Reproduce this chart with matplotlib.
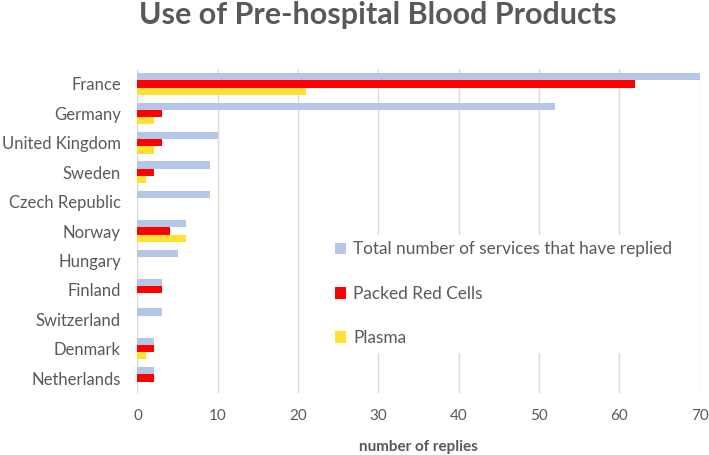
import matplotlib
matplotlib.use("Agg")
import matplotlib.pyplot as plt
import numpy as np

countries = ["France", "Germany", "United Kingdom", "Sweden", "Czech Republic",
             "Norway", "Hungary", "Finland", "Switzerland", "Denmark", "Netherlands"]
total_services = [70, 52, 10, 9, 9, 6, 5, 3, 3, 2, 2]
packed_red_cells = [62, 3, 3, 2, 0, 4, 0, 3, 0, 2, 2]
plasma = [21, 2, 2, 1, 0, 6, 0, 0, 0, 1, 0]
series_labels = ["Total number of services that have replied", "Packed Red Cells", "Plasma"]
x_ticks = [0, 10, 20, 30, 40, 50, 60, 70]

plt.rcParams['font.family'] = ['Lato', 'DejaVu Sans']
gray = "#595959"

fig = plt.figure(figsize=(7.09, 4.55), dpi=100)
ax = fig.add_axes([0.1939, 0.1369, 0.7929, 0.7108])

y = np.arange(len(countries))
h = 0.245
colors = ["#B4C7E7", "#FF0000", "#FFE033"]
ax.barh(y - h, total_services, height=h, color=colors[0], label=series_labels[0], zorder=3)
ax.barh(y, packed_red_cells, height=h, color=colors[1], label=series_labels[1], zorder=3)
ax.barh(y + h, plasma, height=h, color=colors[2], label=series_labels[2], zorder=3)

ax.set_ylim(len(countries) - 0.5, -0.5)
ax.set_xlim(0, 70)
ax.set_xticks(x_ticks)
ax.set_yticks(y)
ax.set_yticklabels(countries, fontsize=12, color=gray)
ax.tick_params(axis='x', labelsize=11, labelcolor=gray, length=0, pad=12)
ax.tick_params(axis='y', length=0, pad=12)
ax.grid(axis='x', color="#D9D9D9", linewidth=1, zorder=0)
for s in ax.spines.values():
    s.set_visible(False)

ax.set_xlabel("number of replies", fontsize=11, fontweight='bold', color=gray, labelpad=12)
fig.text(0.533, 0.997, "Use of Pre-hospital Blood Products", fontsize=22, fontweight='bold',
         color=gray, ha='center', va='top')

leg = ax.legend(loc='upper left', bbox_to_anchor=(0.339, 0.489), frameon=True,
                facecolor='white', edgecolor='none', framealpha=1, fancybox=False,
                fontsize=12.4, labelcolor=gray, handlelength=0.65, handleheight=0.65,
                handletextpad=0.4, labelspacing=1.65, borderaxespad=0, borderpad=0.4)
leg.set_zorder(5)

fig.savefig("out.png", dpi=100)
